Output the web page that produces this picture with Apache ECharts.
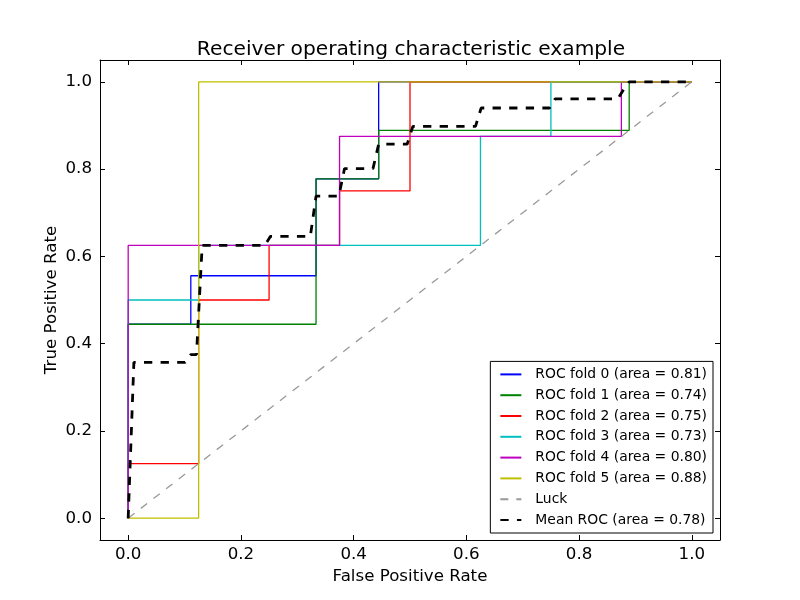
<!DOCTYPE html>
<html>
<head>
<meta charset="utf-8">
<script src="https://cdn.jsdelivr.net/npm/echarts@6/dist/echarts.min.js"></script>
<style>html,body{margin:0;padding:0;background:#fff}#c{width:800px;height:600px}</style>
</head>
<body>
<div id="c"></div>
<script>
// ---- data ----
const tickValues = [0, 0.2, 0.4, 0.6, 0.8, 1.0];
const foldNames = ['ROC fold 0 (area = 0.81)','ROC fold 1 (area = 0.74)','ROC fold 2 (area = 0.75)','ROC fold 3 (area = 0.73)','ROC fold 4 (area = 0.80)','ROC fold 5 (area = 0.88)'];
const fold0 = [[0,0],[0,0.4444],[0.1111,0.4444],[0.1111,0.5556],[0.3333,0.5556],[0.3333,0.7778],[0.4444,0.7778],[0.4444,1],[1,1]];
const fold1 = [[0,0],[0,0.1111],[0,0.4444],[0.3333,0.4444],[0.3333,0.7778],[0.4444,0.7778],[0.4444,0.8889],[0.8889,0.8889],[0.8889,1],[1,1]];
const fold2 = [[0,0],[0,0.125],[0.125,0.125],[0.125,0.5],[0.25,0.5],[0.25,0.625],[0.375,0.625],[0.375,0.75],[0.5,0.75],[0.5,1],[1,1]];
const fold3 = [[0,0],[0,0.5],[0.125,0.5],[0.125,0.625],[0.625,0.625],[0.625,0.875],[0.75,0.875],[0.75,1],[1,1]];
const fold4 = [[0,0],[0,0.625],[0.375,0.625],[0.375,0.875],[0.875,0.875],[0.875,1],[1,1]];
const fold5 = [[0,0],[0.125,0],[0.125,1],[1,1]];
const luck = [[0,0],[1,1]];
const meanFpr = [0,0.0101,0.1010,0.1111,0.1212,0.1313,0.2424,0.2525,0.3232,0.3333,0.3737,0.3838,0.4343,0.4444,0.4949,0.5051,0.6162,0.6263,0.7475,0.7576,0.8687,0.8788,0.8889,1.0];
const meanTpr = [0,0.357,0.357,0.375,0.375,0.625,0.625,0.646,0.646,0.738,0.738,0.801,0.801,0.857,0.857,0.898,0.898,0.940,0.940,0.961,0.961,0.982,1.0,1.0];
const meanName = 'Mean ROC (area = 0.78)';

const foldColors = ['#0000ff','#008000','#ff0000','#00bfbf','#bf00bf','#bfbf00'];
const folds = [fold0, fold1, fold2, fold3, fold4, fold5];
const FONT = 'DejaVu Sans';

const chart = echarts.init(document.getElementById('c'), null, {renderer:'canvas'});

function axisBase(pos, show) {
  return {
    type: 'value', min: -0.05, max: 1.05, position: pos,
    axisLine: {show: true, onZero: false, lineStyle: {color: '#000', width: 1}},
    axisTick: {show: true, inside: true, length: 5, customValues: tickValues, lineStyle: {color: '#000', width: 1}},
    axisLabel: {show: show, customValues: tickValues, formatter: v => v.toFixed(1), color: '#000', fontFamily: FONT, fontSize: 16.67},
    splitLine: {show: false}
  };
}

const series = folds.map((d, i) => ({
  name: foldNames[i], type: 'line', data: d, symbol: 'none', silent: true, animation: false,
  lineStyle: {color: foldColors[i], width: 1.3}, itemStyle: {color: foldColors[i]}
}));
series.push({
  name: 'Luck', type: 'line', data: luck, symbol: 'none', animation: false,
  lineStyle: {color: '#999999', width: 1.3, type: [8, 8]}, itemStyle: {color: '#999999'}
});
series.push({
  name: meanName, type: 'line', data: meanFpr.map((x, i) => [x, meanTpr[i]]), symbol: 'none', animation: false,
  lineStyle: {color: '#000', width: 2.8, type: [8.3, 8.3], cap: 'butt'}, itemStyle: {color: '#000'}
});

const xb = axisBase('bottom', true);
xb.name = 'False Positive Rate'; xb.nameLocation = 'middle'; xb.nameGap = 28;
xb.nameTextStyle = {color: '#000', fontFamily: FONT, fontSize: 16.67};
xb.axisLabel.margin = 6;
const xt = axisBase('top', false);
const yl = axisBase('left', true);
yl.name = 'True Positive Rate'; yl.nameLocation = 'middle'; yl.nameGap = 40; yl.nameMoveOverlap = false;
yl.nameTextStyle = {color: '#000', fontFamily: FONT, fontSize: 16.67};
yl.axisLabel.margin = 8;
const yr = axisBase('right', false);

chart.setOption({
  backgroundColor: '#fff',
  animation: false,
  title: {text: 'Receiver operating characteristic example', left: 406, top: 35, textAlign: 'center',
    textStyle: {color: '#000', fontFamily: FONT, fontSize: 20.2, fontWeight: 'normal'}},
  grid: {left: 100, right: 80, top: 60, bottom: 60, containLabel: false},
  xAxis: [xb, xt],
  yAxis: [yl, yr],
  legend: {
    orient: 'vertical', right: 87, bottom: 67, backgroundColor: '#fff', borderColor: '#000', borderWidth: 1,
    borderRadius: 0, padding: [6, 6, 6, 9], itemWidth: 21, itemHeight: 14, itemGap: 6.8,
    itemStyle: {opacity: 0},
    textStyle: {color: '#000', fontFamily: FONT, fontSize: 13.9, padding: [0, 0, 0, 9]},
    selectedMode: false,
    data: foldNames.concat(['Luck', meanName])
  },
  series: series
});
</script>
</body>
</html>
